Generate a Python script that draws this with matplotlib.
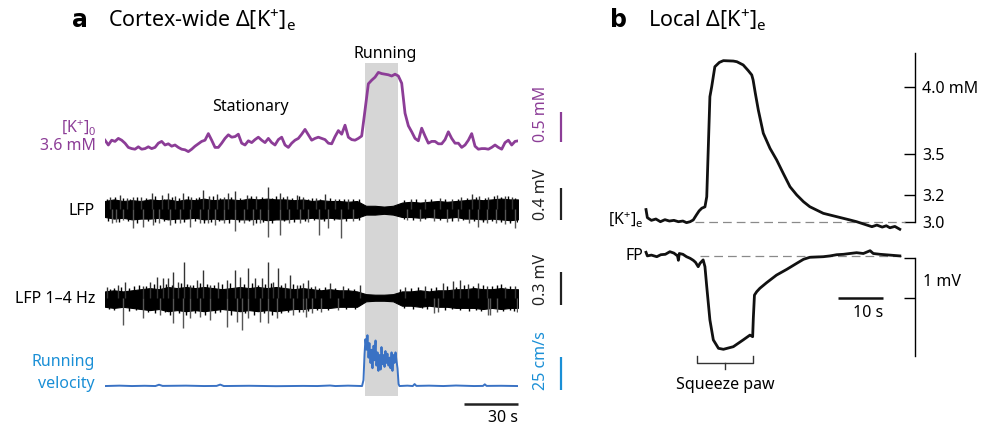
import numpy as np
import matplotlib

matplotlib.use("Agg")
import matplotlib.pyplot as plt

plt.rcParams["font.family"] = ["Noto Sans", "DejaVu Sans"]
plt.rcParams["mathtext.fontset"] = "custom"
plt.rcParams["mathtext.rm"] = "Noto Sans"
plt.rcParams["mathtext.it"] = "Noto Sans:italic"
plt.rcParams["mathtext.bf"] = "Noto Sans:bold"

# ---------------- panel a data (time in s) ----------------
RUN_START, RUN_END = 144.4, 162.9

# cortex-wide [K+]e, mM, one sample every K0_DT seconds
K0_DT = 1.852
K0_VALUES = [
    3.68, 3.60, 3.68, 3.66, 3.71, 3.68, 3.63, 3.56, 3.54, 3.53,
    3.57, 3.53, 3.54, 3.57, 3.54, 3.56, 3.63, 3.66, 3.60, 3.62,
    3.58, 3.60, 3.56, 3.53, 3.52, 3.49, 3.53, 3.58, 3.62, 3.66,
    3.68, 3.79, 3.68, 3.56, 3.56, 3.63, 3.71, 3.77, 3.73, 3.74,
    3.78, 3.63, 3.60, 3.67, 3.64, 3.69, 3.73, 3.68, 3.64, 3.71,
    3.64, 3.60, 3.69, 3.73, 3.60, 3.56, 3.63, 3.68, 3.71, 3.78,
    3.86, 3.77,
    3.68, 3.71, 3.73, 3.71, 3.69, 3.63, 3.62, 3.74, 3.84, 3.78,
    3.93, 3.73, 3.69, 3.68, 3.71, 3.75, 4.18, 4.62, 4.68, 4.73,
    4.81, 4.79, 4.78, 4.77, 4.75, 4.78, 4.75, 4.63, 4.13, 3.92,
    3.82, 3.71, 3.67, 3.88, 3.75, 3.63, 3.66, 3.66, 3.62, 3.62,
    3.69, 3.82, 3.71, 3.63, 3.63, 3.56, 3.60, 3.68, 3.79, 3.58,
    3.53, 3.54, 3.54, 3.53, 3.56, 3.60, 3.56, 3.53, 3.64, 3.68,
    3.60, 3.66, 3.67,
]

# LFP envelopes (mV) at knot times
ENV_T = list(range(0, 230, 5)) + [229.4]
LFP_UP = [
    0.10, 0.12, 0.10, 0.11, 0.10, 0.12, 0.11, 0.12, 0.10, 0.12,
    0.11, 0.13, 0.11, 0.12, 0.12, 0.11, 0.13, 0.12, 0.13, 0.12,
    0.12, 0.11, 0.12, 0.10, 0.11, 0.10, 0.10, 0.09, 0.10, 0.04,
    0.04, 0.03, 0.04, 0.08, 0.09, 0.08, 0.09, 0.10, 0.09, 0.10,
    0.11, 0.12, 0.11, 0.12, 0.13, 0.12, 0.12,
]
LFP_LOW = [
    -0.10, -0.12, -0.11, -0.13, -0.12, -0.12, -0.11, -0.13, -0.12, -0.12,
    -0.11, -0.13, -0.12, -0.13, -0.12, -0.13, -0.13, -0.12, -0.14, -0.13,
    -0.13, -0.12, -0.12, -0.11, -0.12, -0.11, -0.12, -0.11, -0.11, -0.07,
    -0.07, -0.06, -0.07, -0.10, -0.10, -0.11, -0.10, -0.11, -0.11, -0.10,
    -0.12, -0.12, -0.13, -0.12, -0.13, -0.14, -0.13,
]
LFP_UP_T = [2.8, 8.3, 12, 15.7, 20, 25.9, 31.5, 35.2, 39, 43.5,
            48, 54.6, 58, 62, 66, 68.5, 72.2, 78.7, 84, 90.7,
            97.2, 101, 106.5, 110, 117, 122.2, 128, 135, 170, 178,
            186, 193, 198, 203.7, 208, 213, 218, 222, 226]
LFP_UP_V = [0.15, 0.175, 0.14, 0.146, 0.15, 0.196, 0.175, 0.196, 0.16, 0.204,
            0.15, 0.24, 0.16, 0.19, 0.15, 0.204, 0.23, 0.175, 0.16, 0.28,
            0.204, 0.16, 0.175, 0.15, 0.14, 0.19, 0.13, 0.13, 0.12, 0.13,
            0.14, 0.13, 0.15, 0.19, 0.16, 0.15, 0.17, 0.16, 0.15]
LFP_DOWN_T = [3.7, 6, 10.2, 15.7, 21.3, 26.9, 30, 36.1, 41.7, 47.2,
              52.8, 57, 61.1, 66, 72.2, 77, 82.4, 86, 90.7, 97.2,
              102, 108.3, 113, 118.9, 124, 131.1, 138, 168, 175, 183,
              190, 196, 202, 207.4, 212, 217, 222, 227.8]
LFP_DOWN_V = [-0.18, -0.16, -0.14, -0.24, -0.22, -0.20, -0.17, -0.20, -0.18, -0.22,
              -0.18, -0.17, -0.20, -0.18, -0.28, -0.17, -0.20, -0.18, -0.35, -0.325,
              -0.18, -0.18, -0.16, -0.325, -0.24, -0.36, -0.15, -0.14, -0.15, -0.15,
              -0.16, -0.15, -0.17, -0.22, -0.17, -0.18, -0.19, -0.24]
# small deflections that roughen the band edges
LFP_MINOR_UP_T = [1, 5.5, 10, 14, 17.5, 23, 28, 33, 37, 41,
                  46, 50.5, 52, 56, 60, 64, 70, 75, 81, 87,
                  93, 95, 99, 104, 108, 113, 115, 119.5, 125, 130,
                  133, 138, 141, 166, 173, 181, 189, 196, 201, 206,
                  211, 216, 220, 224, 228]
LFP_MINOR_UP_V = [0.13, 0.15, 0.14, 0.13, 0.15, 0.14, 0.16, 0.13, 0.15, 0.14,
                  0.16, 0.14, 0.15, 0.13, 0.16, 0.14, 0.15, 0.14, 0.16, 0.15,
                  0.14, 0.16, 0.15, 0.14, 0.16, 0.13, 0.14, 0.13, 0.14, 0.12,
                  0.13, 0.12, 0.12, 0.11, 0.12, 0.13, 0.12, 0.13, 0.14, 0.15,
                  0.14, 0.16, 0.15, 0.16, 0.14]
LFP_MINOR_DOWN_T = [1.5, 8, 12.5, 18, 24, 28, 33, 39, 44, 50,
                    55, 59, 63.5, 69, 74.5, 80, 84, 88, 93, 99.5,
                    105, 111, 116, 121.5, 127, 134, 141, 166, 171, 178,
                    186, 193, 199, 205, 210, 215, 220, 225, 229]
LFP_MINOR_DOWN_V = [-0.15, -0.16, -0.15, -0.17, -0.15, -0.16, -0.15, -0.17, -0.16, -0.15,
                    -0.17, -0.16, -0.15, -0.17, -0.16, -0.15, -0.17, -0.16, -0.17, -0.15,
                    -0.16, -0.15, -0.14, -0.15, -0.14, -0.15, -0.14, -0.13, -0.14, -0.13,
                    -0.14, -0.15, -0.14, -0.15, -0.16, -0.15, -0.16, -0.17, -0.16]

# LFP 1-4 Hz (mV)
DELTA_UP = [
    0.06, 0.07, 0.06, 0.07, 0.08, 0.09, 0.08, 0.10, 0.09, 0.10,
    0.09, 0.10, 0.09, 0.08, 0.09, 0.10, 0.09, 0.10, 0.09, 0.10,
    0.09, 0.08, 0.09, 0.08, 0.07, 0.08, 0.07, 0.07, 0.06, 0.035,
    0.03, 0.03, 0.035, 0.06, 0.06, 0.07, 0.06, 0.07, 0.07, 0.08,
    0.08, 0.09, 0.08, 0.08, 0.09, 0.08, 0.08,
]
DELTA_LOW = [
    -0.08, -0.09, -0.08, -0.09, -0.10, -0.11, -0.10, -0.12, -0.11, -0.12,
    -0.11, -0.12, -0.11, -0.10, -0.11, -0.12, -0.11, -0.12, -0.11, -0.12,
    -0.11, -0.10, -0.10, -0.09, -0.09, -0.09, -0.08, -0.08, -0.08, -0.03,
    -0.025, -0.025, -0.03, -0.07, -0.07, -0.08, -0.07, -0.08, -0.08, -0.09,
    -0.09, -0.09, -0.10, -0.09, -0.10, -0.09, -0.09,
]
DELTA_UP_T = [0.9, 7.4, 11.1, 21.3, 25, 28.7, 32.4, 35.2, 38, 40.7,
              43.9, 47.2, 50.9, 54.6, 58.3, 63, 67.6, 72.2, 75, 79.6,
              83.3, 87, 90.7, 93.5, 96.3, 100, 102.8, 106.5, 110.2, 112.6,
              116.7, 125, 132.4, 141.7, 166.7, 177.8, 187.9, 193.5, 197.2, 201.9,
              207.4, 212, 222.2, 227.8]
DELTA_UP_V = [0.10, 0.118, 0.148, 0.11, 0.148, 0.194, 0.179, 0.179, 0.239, 0.148,
              0.33, 0.118, 0.164, 0.255, 0.118, 0.148, 0.164, 0.255, 0.194, 0.27,
              0.179, 0.179, 0.33, 0.148, 0.276, 0.133, 0.209, 0.118, 0.133, 0.164,
              0.11, 0.133, 0.11, 0.118, 0.10, 0.11, 0.14, 0.155, 0.164, 0.13,
              0.14, 0.11, 0.10, 0.11]
DELTA_DOWN_T = [10.2, 21.3, 30.6, 38, 43.5, 47.2, 52.8, 58.3, 67.6, 73.1,
                75.9, 79.6, 86.1, 90.7, 95.4, 104.6, 110.2, 111.6, 115, 120,
                129.6, 182.5, 185, 212.8, 214, 218, 229]
DELTA_DOWN_V = [-0.245, -0.185, -0.155, -0.23, -0.276, -0.185, -0.17, -0.20, -0.26, -0.215,
                -0.291, -0.185, -0.215, -0.23, -0.185, -0.155, -0.124, -0.17, -0.14, -0.13,
                -0.109, -0.139, -0.13, -0.155, -0.15, -0.13, -0.124]
DELTA_MINOR_UP_T = [3, 5, 9, 13.5, 16, 19, 23, 27, 30.5, 34,
                    37, 42, 45.5, 49, 53, 56.5, 60.5, 65, 69.5, 77,
                    81.5, 85, 89, 92, 98, 104.5, 108.5, 114.5, 119, 122,
                    128, 135, 138.5, 164, 170, 174, 181, 184, 190, 195,
                    199.5, 204.5, 210, 215, 218, 220, 225]
DELTA_MINOR_UP_V = [0.08, 0.09, 0.10, 0.09, 0.11, 0.12, 0.11, 0.13, 0.12, 0.13,
                    0.12, 0.14, 0.13, 0.12, 0.14, 0.13, 0.12, 0.13, 0.14, 0.13,
                    0.14, 0.12, 0.13, 0.14, 0.12, 0.13, 0.12, 0.10, 0.09, 0.10,
                    0.09, 0.09, 0.08, 0.08, 0.09, 0.10, 0.09, 0.10, 0.11, 0.10,
                    0.12, 0.11, 0.12, 0.11, 0.12, 0.13, 0.11]
DELTA_MINOR_DOWN_T = [2, 5, 13.5, 17, 24, 27.5, 33.5, 36, 41, 45,
                      50, 55.5, 61, 64, 70, 78, 82.5, 88.5, 93, 98,
                      101.5, 107.5, 113, 118, 124, 134, 139, 166, 171, 176,
                      179, 189, 193, 197, 202, 206, 209, 221, 225, 227]
DELTA_MINOR_DOWN_V = [-0.10, -0.11, -0.12, -0.11, -0.13, -0.14, -0.13, -0.15, -0.14, -0.15,
                      -0.14, -0.15, -0.14, -0.13, -0.15, -0.14, -0.15, -0.14, -0.15, -0.14,
                      -0.13, -0.13, -0.12, -0.11, -0.11, -0.10, -0.10, -0.09, -0.10, -0.09,
                      -0.10, -0.11, -0.10, -0.11, -0.12, -0.11, -0.12, -0.12, -0.11, -0.12]

# running velocity, cm/s
VEL_T = [0, 8, 15, 22, 28, 30, 32, 45, 55, 62, 64, 66, 80, 95, 110, 118, 125, 128, 135, 142.8,
         143.6, 144.2, 144.7, 145.3, 145.8, 146.4, 146.9, 147.5, 148.1, 148.6,
         149.2, 149.7, 150.3, 150.8, 151.4, 151.9, 152.5, 153.1, 153.6, 154.2,
         154.7, 155.3, 155.8, 156.4, 156.9, 157.5, 158.1, 158.6, 159.2, 159.7,
         160.3, 160.8, 161.4, 161.9, 162.5, 163.1, 163.6,
         168, 171, 172, 173, 180, 188, 195, 205, 210, 211, 212, 220, 229.4]
VEL_V = [0.5, 0.8, 0.5, 0.7, 0.5, 1.5, 0.6, 0.8, 0.5, 0.6, 1.6, 0.5, 0.7, 0.4, 0.6, 0.5, 0.9, 0.5, 0.8, 0.5,
         5, 25, 36, 28, 39, 22, 33, 18, 28, 14,
         31, 20, 35, 16, 26, 12, 24, 13, 30, 17,
         24, 15, 27, 18, 25, 16, 22, 14, 26, 12,
         24, 18, 26, 20, 14, 2, 0.5,
         0.8, 0.5, 2.0, 0.6, 0.8, 0.5, 0.9, 0.5, 0.6, 1.8, 0.6, 0.7, 0.5]

# ---------------- panel b data ----------------
SQUEEZE_START, SQUEEZE_END = 11.3, 23.8
K_T = [0.0, 0.3, 1.2, 2.2, 3.2, 4.2, 5.2, 6.2, 7.2, 8.2, 9.0, 9.8, 10.5, 11.2, 11.8, 12.4, 13.1,
       13.5, 14.2, 14.6, 15.3, 16.3, 17.2, 19.4, 20.2, 21.6, 22.7, 23.5, 23.8, 24.3, 24.96,
       26.07, 27.56, 29.04, 30.5, 32.0, 33.5, 35.0, 36.4, 39.4, 42.4, 45.3, 46.8, 49.0,
       50.2, 51.3, 52.5, 53.4, 54.2, 55.3, 56.4]
K_V = [3.09, 3.03, 3.01, 3.02, 3.00, 3.015, 3.005, 3.01, 3.0, 3.005, 2.993, 3.0, 3.013, 3.05, 3.08, 3.10, 3.11,
       3.185, 3.926, 4.0, 4.148, 4.18, 4.193, 4.19, 4.185, 4.161, 4.12, 4.087, 4.05, 3.95, 3.827,
       3.655, 3.543, 3.457, 3.358, 3.259, 3.198, 3.148, 3.111, 3.062, 3.037, 3.013, 3.0, 2.976,
       2.963, 2.975, 2.96, 2.97, 2.955, 2.965, 2.944]
K_BASE = 3.0

FP_T = [0.0, 0.3, 1.2, 2.4, 3.3, 4.3, 5.3, 6.2, 7.0, 7.2, 7.4, 8.2, 9.0, 9.8, 10.5, 11.0, 11.6, 12.0,
        12.7, 13.1, 13.5, 14.2, 14.96, 16.1, 17.2, 19.4, 21.6, 23.1, 23.7, 23.85, 24.1, 24.6, 25.3,
        26.8, 29.0, 31.3, 33.5, 35.0, 36.4, 39.4, 40.9, 42.4, 43.9, 45.3, 46.8, 48.3, 49.8, 50.5,
        52.0, 54.2, 56.4]
FP_V = [0.15, 0.06, 0.08, 0.04, 0.09, 0.10, 0.165, 0.13, 0.06, -0.05, 0.12, 0.10, 0.04, 0.0, -0.05, -0.10,
        -0.21, -0.125, -0.04, -0.21, -0.71, -1.54, -2.04, -2.25, -2.275, -2.21, -2.04, -1.92, -1.96, -1.5,
        -0.92, -0.835, -0.75, -0.61, -0.42, -0.275, -0.125, -0.025, 0.025, 0.04, 0.06, 0.09, 0.10, 0.12,
        0.14, 0.12, 0.19, 0.12, 0.10, 0.08, 0.06]
FP_BASE = 0.05

PURPLE = "#8c3d97"
BLUE_TXT = "#1a8fd6"
BLUE_LINE = "#3a72c4"
FS = 11.5

W, H = 992, 430
fig = plt.figure(figsize=(W / 100, H / 100), dpi=100)


def px_axes(x0, y0, x1, y1):
    ax = fig.add_axes([x0 / W, 1 - y1 / H, (x1 - x0) / W, (y1 - y0) / H])
    ax.patch.set_alpha(0)
    return ax


def ftext(x, y, s, **kw):
    fig.text(x / W, 1 - y / H, s, **kw)


# panel a: 105..518 px covers 0..229.4 s (1.8 px per s)
A_X0, A_X1, A_PPS = 105, 518, 1.8
A_SPAN = (A_X1 - A_X0) / A_PPS
T_BAR = (561 - A_X0) / A_PPS
T_LBL = (541 - A_X0) / A_PPS


def trace_axes(y0, y1, zero_px, ppu, zero_val=0.0):
    ax = px_axes(A_X0, y0, A_X1, y1)
    ax.set_xlim(0, A_SPAN)
    ax.set_ylim(zero_val - (y1 - zero_px) / ppu, zero_val + (zero_px - y0) / ppu)
    ax.set_axis_off()
    return ax


def scale_bar(ax, lo, hi, label, color):
    ax.plot([T_BAR, T_BAR], [lo, hi], color=color, lw=1.6, clip_on=False, solid_capstyle="butt")
    ax.text(T_LBL, lo, label, rotation=90, ha="center", va="bottom", color=color,
            fontsize=FS, clip_on=False)


def band(ax, low, up, spikes):
    ax.fill_between(ENV_T, low, up, color="black", lw=0.8)
    for ts, vs, col in spikes:
        ax.vlines(ts, 0, vs, color=col, lw=1.0)


ax_sh = px_axes(A_X0, 63, A_X1, 396)
ax_sh.set_xlim(0, A_SPAN)
ax_sh.set_axis_off()
ax_sh.axvspan(RUN_START, RUN_END, color="#d6d6d6", lw=0)

# [K+]e trace: 3.6 mM at y=145 px, 60 px per mM
ax_k0 = trace_axes(60, 165, 145, 60, 3.6)
k0_t = np.arange(len(K0_VALUES)) * K0_DT
ax_k0.plot(k0_t, K0_VALUES, color=PURPLE, lw=2.0, solid_joinstyle="round")
scale_bar(ax_k0, 3.65, 4.15, "0.5 mM", PURPLE)

# LFP: 0 at y=209 px, 80 px per mV
ax_lfp = trace_axes(170, 250, 209, 80)
band(ax_lfp, LFP_LOW, LFP_UP, [
    (LFP_MINOR_UP_T, LFP_MINOR_UP_V, "black"),
    (LFP_MINOR_DOWN_T, LFP_MINOR_DOWN_V, "black"),
    (LFP_UP_T, LFP_UP_V, "#333333"),
    (LFP_DOWN_T, LFP_DOWN_V, "#555555"),
])
scale_bar(ax_lfp, -0.1375, 0.2625, "0.4 mV", "#222222")

# LFP 1-4 Hz: 0 at y=298 px, 110 px per mV
ax_d = trace_axes(250, 340, 298, 110)
band(ax_d, DELTA_LOW, DELTA_UP, [
    (DELTA_MINOR_UP_T, DELTA_MINOR_UP_V, "black"),
    (DELTA_MINOR_DOWN_T, DELTA_MINOR_DOWN_V, "black"),
    (DELTA_UP_T, DELTA_UP_V, "#333333"),
    (DELTA_DOWN_T, DELTA_DOWN_V, "#555555"),
])
scale_bar(ax_d, -0.064, 0.236, "0.3 mV", "#222222")

# velocity: 0 at y=386.7 px, 1.32 px per cm/s
ax_v = trace_axes(320, 400, 386.7, 1.32)
ax_v.plot(VEL_T, VEL_V, color=BLUE_LINE, lw=1.4)
scale_bar(ax_v, -2.5, 22.5, "25 cm/s", BLUE_TXT)
ax_v.plot([A_SPAN - 30, A_SPAN], [-13.1, -13.1], color="#222222", lw=1.8, clip_on=False,
          solid_capstyle="butt")
ax_v.text(A_SPAN, -24, "30 s", ha="right", va="center", fontsize=FS, clip_on=False)

ftext(72, 20, "a", fontsize=17, fontweight="bold", family="DejaVu Sans", va="center", ha="left")
ftext(108, 20, "Cortex-wide \u0394[K$^{+}$]$_{\\mathrm{e}}$", fontsize=15.5, va="center", ha="left")
ftext(385, 54, "Running", fontsize=FS, ha="center", va="center")
ftext(250, 107, "Stationary", fontsize=FS, ha="center", va="center")
ftext(96, 127, "[K$^{+}$]$_{0}$", fontsize=FS, ha="right", va="center", color=PURPLE)
ftext(96, 146, "3.6 mM", fontsize=FS, ha="right", va="center", color=PURPLE)
ftext(95, 211, "LFP", fontsize=FS, ha="right", va="center")
ftext(95, 299, "LFP 1\u20134 Hz", fontsize=FS, ha="right", va="center")
ftext(95, 362, "Running", fontsize=FS, ha="right", va="center", color=BLUE_TXT)
ftext(95, 384, "velocity", fontsize=FS, ha="right", va="center", color=BLUE_TXT)

# panel b: t=0 at x=646 px, 4.5 px per s, axis line at x=915
B_X0, B_X1, B_T0, B_PPS = 636, 915, 646, 4.5
b_xlim = ((B_X0 - B_T0) / B_PPS, (B_X1 - B_T0) / B_PPS)

# K: 3.0 mM at y=221.7 px, 135 px per mM
ax_k = px_axes(B_X0, 45, B_X1, 240)
ax_k.set_xlim(*b_xlim)
ax_k.set_ylim(3.0 - (240 - 221.7) / 135, 3.0 + (221.7 - 45) / 135)
ax_k.plot([10.9, 57.5], [K_BASE, K_BASE], color="#8a8a8a", lw=0.9, ls=(0, (7, 4)))
ax_k.plot(K_T, K_V, color="#111111", lw=2.0, solid_joinstyle="round")
for side in ["top", "left", "bottom"]:
    ax_k.spines[side].set_visible(False)
ax_k.spines["right"].set_bounds(3.0, 4.25)
ax_k.spines["right"].set_linewidth(1.0)
ax_k.set_xticks([])
ax_k.yaxis.tick_right()
ax_k.set_yticks([3.0, 3.2, 3.5, 4.0], ["3.0", "3.2", "3.5", "4.0 mM"])
ax_k.tick_params(axis="y", direction="in", length=8, width=1.0, pad=5, labelsize=FS)

# FP: 0 mV at y=258.3 px, 40 px per mV
ax_fp = px_axes(B_X0, 240, B_X1, 372)
ax_fp.set_xlim(*b_xlim)
ax_fp.set_ylim((258.3 - 372) / 40, (258.3 - 240) / 40)
ax_fp.plot([12.0, 57.5], [FP_BASE, FP_BASE], color="#8a8a8a", lw=0.9, ls=(0, (7, 4)))
ax_fp.plot(FP_T, FP_V, color="#111111", lw=2.0, solid_joinstyle="round")
for side in ["top", "left", "bottom"]:
    ax_fp.spines[side].set_visible(False)
ax_fp.spines["right"].set_bounds(-2.44, 0)
ax_fp.spines["right"].set_linewidth(1.0)
ax_fp.set_xticks([])
ax_fp.yaxis.tick_right()
ax_fp.set_yticks([0, -1], ["", ""])
ax_fp.tick_params(axis="y", direction="in", length=8, width=1.0)
ax_fp.text((923 - B_T0) / B_PPS, -0.58, "1 mV", fontsize=FS, ha="left", va="center", clip_on=False)
ax_fp.plot([42.7, 52.7], [-0.99, -0.99], color="#111111", lw=1.8, solid_capstyle="butt")
ax_fp.text(52.7, -1.37, "10 s", fontsize=FS, ha="right", va="center")

mid = (SQUEEZE_START + SQUEEZE_END) / 2
ax_fp.plot([SQUEEZE_START, SQUEEZE_START, SQUEEZE_END, SQUEEZE_END], [-2.44, -2.62, -2.62, -2.44],
           color="#333333", lw=1.0, clip_on=False)
ax_fp.plot([mid, mid], [-2.62, -2.76], color="#333333", lw=1.0, clip_on=False)
ax_fp.text(mid, -3.17, "Squeeze paw", fontsize=FS, ha="center", va="center", clip_on=False)

ftext(610, 20, "b", fontsize=17, fontweight="bold", family="DejaVu Sans", va="center", ha="left")
ftext(648, 20, "Local \u0394[K$^{+}$]$_{\\mathrm{e}}$", fontsize=15.5, va="center", ha="left")
ftext(643, 219, "[K$^{+}$]$_{\\mathrm{e}}$", fontsize=FS, ha="right", va="center")
ftext(643, 256, "FP", fontsize=FS, ha="right", va="center")

fig.savefig("out.png", dpi=100)
